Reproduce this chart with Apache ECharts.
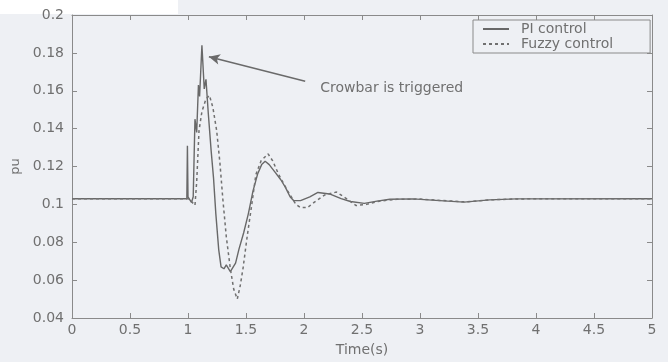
<!DOCTYPE html>
<html>
<head>
<meta charset="utf-8">
<script src="https://cdn.jsdelivr.net/npm/echarts@6/dist/echarts.min.js"></script>
<style>
html,body{margin:0;padding:0;background:#eef0f4;}
#chart{width:668px;height:362px;}
</style>
</head>
<body>
<div id="chart"></div>
<script>
// Tick settings
var xTicks = {min: 0, max: 5, interval: 0.5};
var yTicks = {min: 0.04, max: 0.2, interval: 0.02};

// PI control series
var piTime = [0, 0.99, 0.995, 1.0, 1.015, 1.03, 1.045, 1.06, 1.075, 1.09, 1.1, 1.12, 1.14, 1.155, 1.175, 1.2, 1.22, 1.24, 1.265, 1.285, 1.31, 1.33, 1.365, 1.41, 1.44, 1.48, 1.52, 1.56, 1.6, 1.635, 1.665, 1.7, 1.75, 1.8, 1.84, 1.88, 1.91, 1.97, 2.05, 2.12, 2.22, 2.32, 2.4, 2.52, 2.63, 2.74, 2.94, 3.17, 3.38, 3.6, 3.83, 5];
var piValue = [0.103, 0.103, 0.131, 0.104, 0.103, 0.101, 0.104, 0.145, 0.138, 0.163, 0.157, 0.184, 0.161, 0.166, 0.148, 0.128, 0.114, 0.095, 0.076, 0.067, 0.066, 0.068, 0.0645, 0.069, 0.0765, 0.085, 0.095, 0.107, 0.116, 0.121, 0.1228, 0.121, 0.117, 0.113, 0.109, 0.104, 0.102, 0.102, 0.104, 0.1063, 0.1055, 0.103, 0.1015, 0.1005, 0.1017, 0.1027, 0.1029, 0.102, 0.1012, 0.1024, 0.1029, 0.103];

// Fuzzy control series
var fuzzyTime = [0, 1.0, 1.03, 1.06, 1.075, 1.095, 1.12, 1.155, 1.185, 1.215, 1.247, 1.275, 1.3, 1.33, 1.365, 1.395, 1.425, 1.45, 1.475, 1.51, 1.55, 1.585, 1.63, 1.69, 1.73, 1.78, 1.86, 1.93, 1.97, 2.03, 2.09, 2.18, 2.28, 2.35, 2.45, 2.54, 2.65, 2.8, 3.0, 3.2, 3.4, 3.6, 3.85, 5];
var fuzzyValue = [0.103, 0.103, 0.1015, 0.0995, 0.112, 0.139, 0.149, 0.1557, 0.1575, 0.151, 0.139, 0.122, 0.103, 0.083, 0.066, 0.055, 0.050, 0.057, 0.0665, 0.083, 0.1, 0.1157, 0.123, 0.1267, 0.123, 0.116, 0.107, 0.1, 0.0983, 0.0983, 0.1012, 0.105, 0.1065, 0.1037, 0.0994, 0.1, 0.1017, 0.1027, 0.1028, 0.102, 0.1013, 0.1024, 0.1029, 0.103];

// Annotation
var arrowTip = [1.18, 0.178];
var arrowTail = [2.01, 0.165];
var noteAt = [2.14, 0.1615];
var noteText = 'Crowbar is triggered';

function pairs(xs, ys){ return xs.map(function(x,i){ return [x, ys[i]]; }); }

var textColor = '#707070';
var axisColor = '#8a8a8a';
var font = 'DejaVu Sans';

var chart = echarts.init(document.getElementById('chart'), null, {renderer:'canvas'});

function baseX(pos, show){
  return {
    type:'value', position: pos, min:xTicks.min, max:xTicks.max, interval:xTicks.interval,
    axisLine:{show:true, onZero:false, lineStyle:{color:axisColor, width:1}},
    axisTick:{show:true, inside:true, length:5, lineStyle:{color:axisColor}},
    axisLabel:{show:show, color:textColor, fontFamily:font, fontSize:14, margin:5},
    splitLine:{show:false}
  };
}
function baseY(pos, show){
  return {
    type:'value', position: pos, min:yTicks.min, max:yTicks.max, interval:yTicks.interval,
    axisLine:{show:true, onZero:false, lineStyle:{color:axisColor, width:1}},
    axisTick:{show:true, inside:true, length:5, lineStyle:{color:axisColor}},
    axisLabel:{show:show, color:textColor, fontFamily:font, fontSize:14, margin:8,
      formatter:function(v){ return String(parseFloat(v.toFixed(2))); }},
    splitLine:{show:false}
  };
}

var xMain = baseX('bottom', true);
xMain.name = 'Time(s)'; xMain.nameLocation = 'middle'; xMain.nameGap = 25;
xMain.nameTextStyle = {color:textColor, fontFamily:font, fontSize:14};
var yMain = baseY('left', true);
yMain.name = 'pu'; yMain.nameLocation = 'middle'; yMain.nameGap = 31;
yMain.nameTextStyle = {color:textColor, fontFamily:font, fontSize:13};

chart.setOption({
  animation:false,
  backgroundColor:'#eef0f4',
  graphic:[{type:'rect', left:0, top:0, shape:{width:178, height:14}, style:{fill:'#ffffff'}, silent:true, z:-1}],
  grid:{left:72, right:16, top:15, bottom:34, containLabel:false},
  legend:{
    orient:'vertical', left:473, top:20,
    padding:[2,37,2,9], itemGap:1, itemWidth:26, itemHeight:14,
    borderColor:axisColor, borderWidth:1, backgroundColor:'#eef0f4',
    itemStyle:{color:'rgba(0,0,0,0)', borderColor:'rgba(0,0,0,0)', borderWidth:0},
    textStyle:{color:textColor, fontFamily:font, fontSize:14, lineHeight:14, padding:[0,0,0,7]},
    data:['PI control','Fuzzy control']
  },
  xAxis:[xMain, baseX('top', false)],
  yAxis:[yMain, baseY('right', false)],
  series:[
    {
      name:'PI control', type:'line', symbol:'none', data:pairs(piTime, piValue),
      lineStyle:{color:'#686868', width:1.4}, itemStyle:{color:'#686868'},
      markLine:{
        silent:true, symbol:['arrow','none'], symbolSize:[8,11],
        label:{show:false},
        lineStyle:{color:'#6a6a6a', width:1.5, type:'solid'},
        data:[[{coord:arrowTip},{coord:arrowTail}]]
      },
      markPoint:{
        silent:true, symbol:'circle', symbolSize:0,
        label:{show:true, position:'right', distance:0, formatter:noteText, color:textColor, fontFamily:font, fontSize:14},
        data:[{coord:noteAt}]
      }
    },
    {
      name:'Fuzzy control', type:'line', symbol:'none', data:pairs(fuzzyTime, fuzzyValue),
      lineStyle:{color:'#707070', width:1.5, type:[3,3]}, itemStyle:{color:'#707070'}
    }
  ]
});
</script>
</body>
</html>
